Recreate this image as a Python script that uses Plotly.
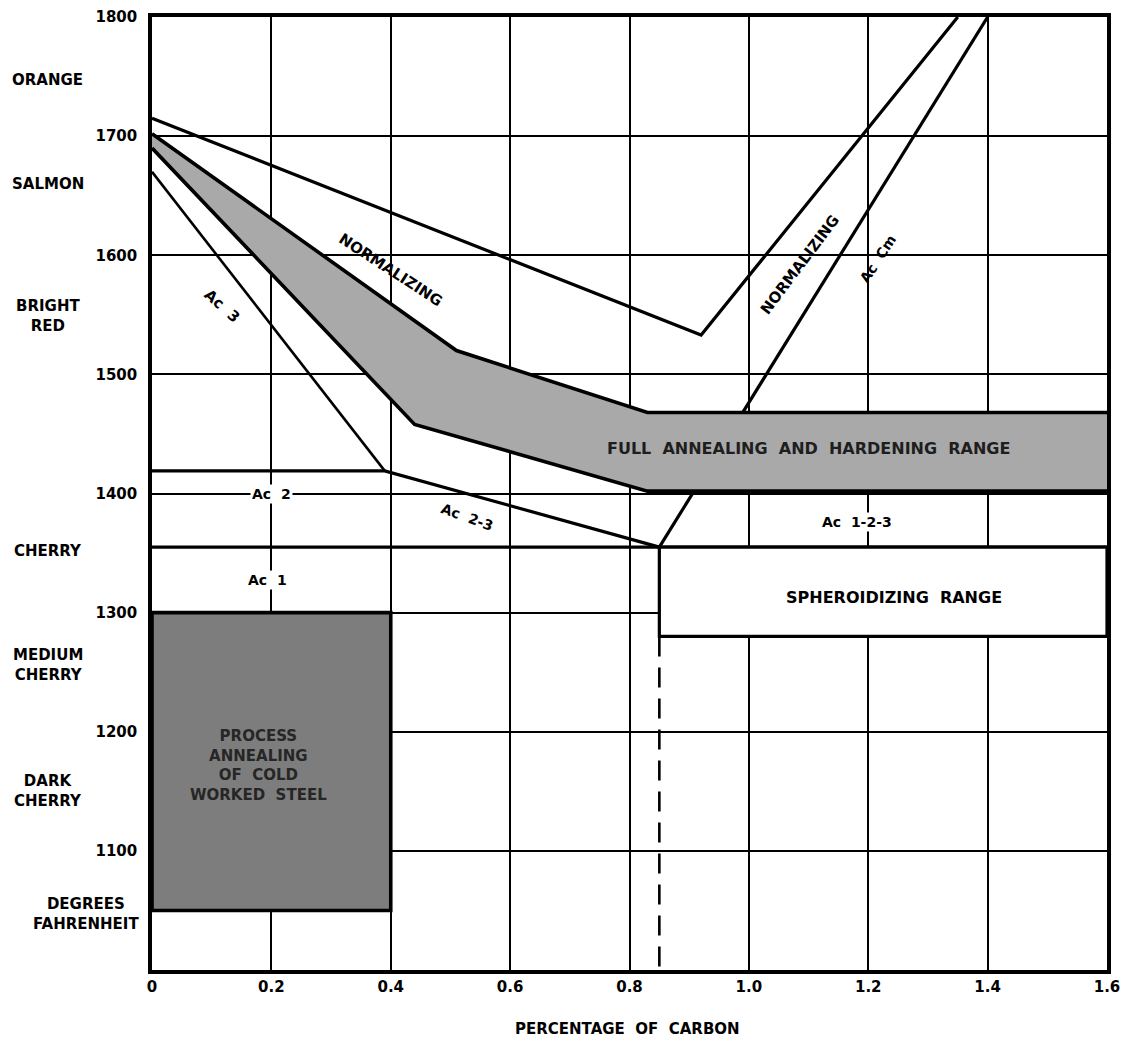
import plotly.graph_objects as go

# ---------------- data ----------------
x_ticks = [0, 0.2, 0.4, 0.6, 0.8, 1.0, 1.2, 1.4, 1.6]
x_tick_labels = ["0", "0.2", "0.4", "0.6", "0.8", "1.0", "1.2", "1.4", "1.6"]
y_ticks = [1100, 1200, 1300, 1400, 1500, 1600, 1700, 1800]
y_tick_labels = ["1100", "1200", "1300", "1400", "1500", "1600", "1700", "1800"]

# upper limit of normalizing
norm_upper_x = [0.0, 0.92, 1.35]
norm_upper_y = [1715, 1533, 1800]

# full annealing and hardening band
band_top_x = [0.0, 0.51, 0.83, 1.6]
band_top_y = [1702, 1520, 1468, 1468]
band_bot_x = [0.0, 0.44, 0.83, 1.6]
band_bot_y = [1690, 1458, 1402, 1402]

# critical lines
ac3_x = [0.0, 0.39]
ac3_y = [1670, 1419]
ac2_x = [0.0, 0.39, 0.85]
ac2_y = [1419, 1419, 1355]
ac1_x = [0.0, 1.6]
ac1_y = [1355, 1355]
accm_x = [0.85, 1.4]
accm_y = [1355, 1800]

# spheroidizing range box
sph_x = [0.85, 0.85, 1.6, 1.6, 0.85]
sph_y = [1355, 1280, 1280, 1355, 1355]
eut_x = [0.85, 0.85]
eut_y = [1280, 1000]

# process annealing box
proc_x = [0.0, 0.4, 0.4, 0.0, 0.0]
proc_y = [1300, 1300, 1050, 1050, 1300]

# temperature colour names
colour_names = ["ORANGE", "SALMON", "BRIGHT<br>RED", "CHERRY", "MEDIUM<br>CHERRY",
                "DARK<br>CHERRY", "DEGREES<br>FAHRENHEIT"]
colour_y = [1747, 1660, 1549, 1352, 1256, 1150, 1047]

# ---------------- figure ----------------
FONT = "DejaVu Sans"
fig = go.Figure()

def line(x, y, w=3.2, dash="solid", color="black"):
    fig.add_trace(go.Scatter(x=x, y=y, mode="lines", hoverinfo="skip",
                             line=dict(color=color, width=w, dash=dash),
                             showlegend=False))

# Ac Cm (partly hidden under band)
line(accm_x, accm_y, 3.2)

# band fill
fig.add_trace(go.Scatter(x=band_top_x + band_bot_x[::-1],
                         y=band_top_y + band_bot_y[::-1],
                         mode="lines", fill="toself", fillcolor="#a9a9a9",
                         line=dict(width=0), hoverinfo="skip", showlegend=False))
line(band_top_x, band_top_y, 3.6)
line(band_bot_x, band_bot_y, 3.6)

line(norm_upper_x, norm_upper_y, 3.2)
line(ac3_x, ac3_y, 2.6)
line(ac2_x, ac2_y, 3.2)
line(ac1_x, ac1_y, 3.4)

# spheroidizing box (white interior hides grid)
fig.add_trace(go.Scatter(x=sph_x, y=sph_y, mode="lines", fill="toself",
                         fillcolor="white", line=dict(color="black", width=3.2),
                         hoverinfo="skip", showlegend=False))
line(eut_x, eut_y, 2.6, dash="20px,11px")

# process annealing box
fig.add_trace(go.Scatter(x=proc_x, y=proc_y, mode="lines", fill="toself",
                         fillcolor="#7d7d7d", line=dict(color="black", width=3.6),
                         hoverinfo="skip", showlegend=False))

ann = []
def text(x, y, s, size=13, angle=0, bg=None, color="black"):
    d = dict(x=x, y=y, xref="x", yref="y", text=s, showarrow=False,
             xanchor="center", yanchor="middle",
             textangle=angle, font=dict(family=FONT, size=size, color=color, weight="bold"))
    if bg:
        d["bgcolor"] = bg
    ann.append(d)

text(0.40, 1588, "NORMALIZING", 15, 33)
text(1.085, 1592, "NORMALIZING", 15, -53)
text(1.216, 1597, "Ac  Cm", 14, -57)
text(0.117, 1557, "Ac  3", 15, 42)
text(0.20, 1400, "Ac  2", 14, 0, bg="white")
text(0.528, 1380, "Ac  2-3", 14, 20)
text(0.193, 1327, "Ac  1", 14, 0, bg="white")
text(1.181, 1376, "Ac  1-2-3", 14, 0, bg="white")
text(1.10, 1438, "FULL  ANNEALING  AND  HARDENING  RANGE", 16, 0, color="#1e1e1e")
text(1.243, 1313, "SPHEROIDIZING  RANGE", 16, 0)
text(0.178, 1172, "PROCESS<br>ANNEALING<br>OF  COLD<br>WORKED  STEEL", 15, 0,
     color="#262626")

for name, yv in zip(colour_names, colour_y):
    xp = -0.109 if "DEGREES" not in name else -0.069
    ann.append(dict(x=xp, y=yv, xref="paper", yref="y", text=name, showarrow=False,
                    align="center", xanchor="center", yanchor="middle",
                    font=dict(family=FONT, size=15, color="black", weight="bold")))

ann.append(dict(x=0.498, y=-0.050, xref="paper", yref="paper", yanchor="top",
                xanchor="center",
                text="PERCENTAGE  OF  CARBON", showarrow=False,
                font=dict(family=FONT, size=15, color="black", weight="bold")))

fig.update_layout(
    width=1119, height=1032,
    margin=dict(l=144, r=20, t=9, b=70),
    paper_bgcolor="white", plot_bgcolor="white",
    annotations=ann,
    showlegend=False,
    xaxis=dict(range=[0, 1.6], tickvals=x_ticks, ticktext=x_tick_labels,
               showgrid=True, gridcolor="black", gridwidth=1.5, zeroline=False,
               showline=True, mirror=True, linecolor="black", linewidth=3.5,
               ticks="", automargin=False,
               tickfont=dict(family=FONT, size=15, color="black", weight="bold")),
    yaxis=dict(range=[1000, 1800], tickvals=y_ticks, ticktext=y_tick_labels,
               showgrid=True, gridcolor="black", gridwidth=1.5, zeroline=False,
               showline=True, mirror=True, linecolor="black", linewidth=3.5,
               ticks="", ticklabelstandoff=8, automargin=False,
               tickfont=dict(family=FONT, size=15, color="black", weight="bold")),
)

fig.write_html("out.html")
